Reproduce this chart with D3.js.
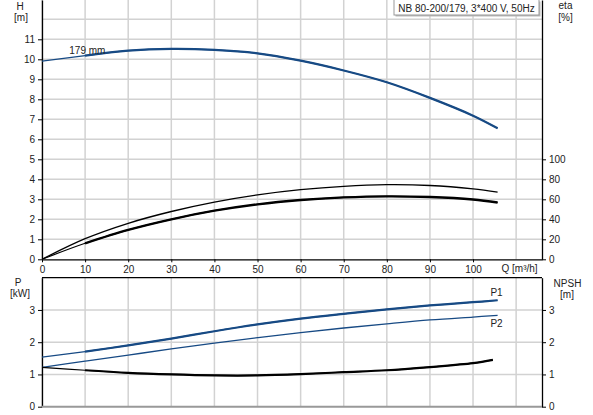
<!DOCTYPE html>
<html><head><meta charset="utf-8">
<script src="https://cdn.jsdelivr.net/npm/d3@7"></script>
<style>
body{margin:0;background:#fff;}
svg{display:block;font-family:"Liberation Sans",Arial,sans-serif;}
</style></head>
<body><svg id="c" width="593" height="415"></svg>
<script>
// ---- data ----
const qPoints   = [0, 10, 20, 30, 40, 50, 60, 70, 80, 90, 100, 105.7];
const headH     = [9.91, 10.18, 10.43, 10.52, 10.47, 10.3, 9.93, 9.44, 8.85, 8.07, 7.18, 6.55];
const etaPump   = [0, 20.6, 36, 47.8, 57.2, 64.4, 69.6, 73, 74.6, 73.8, 70.4, 67.2];
const etaTotal  = [0, 16, 29.4, 40, 48.6, 55, 59.3, 61.9, 63, 62.3, 59.8, 56.8];
const powerP1   = [1.54, 1.71, 1.90, 2.11, 2.34, 2.55, 2.73, 2.88, 3.02, 3.14, 3.24, 3.30];
const powerP2   = [1.22, 1.41, 1.60, 1.79, 1.97, 2.14, 2.30, 2.44, 2.57, 2.69, 2.78, 2.83];
const npshQ     = [0, 10, 20, 30, 40, 50, 60, 70, 80, 90, 100, 104.6];
const npshVals  = [1.22, 1.13, 1.05, 1.0, 0.97, 0.97, 1.01, 1.07, 1.13, 1.23, 1.35, 1.45];
const xTicks    = [0, 10, 20, 30, 40, 50, 60, 70, 80, 90, 100];
const hTicks    = [0, 1, 2, 3, 4, 5, 6, 7, 8, 9, 10, 11];
const etaTicks  = [0, 20, 40, 60, 80, 100];
const pTicks    = [0, 1, 2, 3];
const npshTicks = [0, 1, 2, 3];
const titleText = "NB 80-200/179, 3*400 V, 50Hz";
const curveLabel = "179 mm";

// ---- layout ----
const svg = d3.select("#c");
const L = 42, R = 542;
const topT = 0, topB = 259.3;
const botT = 277.7, botB = 406.7;
const BLUE = "#174a84", GRID = "#d2d2d2", TXT = "#222";
const fmt = d3.format("d");

const x = d3.scaleLinear().domain([0, 116]).range([L, R]);
const yH = d3.scaleLinear().domain([0, 12.965]).range([topB, topT]);
const yEta = d3.scaleLinear().domain([0, 259.3]).range([topB, topT]);
const yP = d3.scaleLinear().domain([0, 4]).range([botB, botT]);

const defs = svg.append("defs");
defs.append("clipPath").attr("id","clipTop").append("rect").attr("x",L).attr("y",topT).attr("width",R-L).attr("height",topB-topT);
defs.append("clipPath").attr("id","clipBot").append("rect").attr("x",L).attr("y",botT).attr("width",R-L).attr("height",botB-botT);

// grids
const gridX = d3.range(0, 111, 10);
function grid(y, yticks, t, b) {
  const g = svg.append("g").attr("stroke", GRID).attr("stroke-width", 1.5);
  gridX.forEach(v => g.append("line").attr("x1", x(v)).attr("x2", x(v)).attr("y1", t).attr("y2", b));
  yticks.forEach(v => g.append("line").attr("x1", L).attr("x2", R).attr("y1", y(v)).attr("y2", y(v)));
}
grid(yH, d3.range(1, 13), topT, topB);
grid(yP, [1, 2, 3], botT, botB);

// axes
function styleAxis(g) {
  g.selectAll("text").attr("font-size", 10).attr("fill", TXT).attr("font-family", '"Liberation Sans",Arial,sans-serif');
  g.selectAll("line").attr("stroke", "#000");
  g.select(".domain").attr("stroke", "#000").attr("stroke-width", 1.3);
}
svg.append("g").attr("transform", `translate(${L},0)`).call(d3.axisLeft(yH).tickValues(hTicks).tickFormat(fmt).tickSize(4).tickPadding(3).tickSizeOuter(0)).call(styleAxis);
svg.append("g").attr("transform", `translate(${R},0)`).call(d3.axisRight(yEta).tickValues(etaTicks).tickFormat(fmt).tickSize(4).tickPadding(3).tickSizeOuter(0)).call(styleAxis);
svg.append("g").attr("transform", `translate(0,${topB})`).call(d3.axisBottom(x).tickValues(xTicks).tickFormat(fmt).tickSize(3).tickPadding(4).tickSizeOuter(0)).call(styleAxis);
svg.append("g").attr("transform", `translate(${L},0)`).call(d3.axisLeft(yP).tickValues(pTicks).tickFormat(fmt).tickSize(4).tickPadding(3).tickSizeOuter(0)).call(styleAxis);
svg.append("g").attr("transform", `translate(${R},0)`).call(d3.axisRight(yP).tickValues(npshTicks).tickFormat(fmt).tickSize(4).tickPadding(3).tickSizeOuter(0)).call(styleAxis);
// lower panel borders
svg.append("line").attr("x1", L).attr("x2", R).attr("y1", botT).attr("y2", botT).attr("stroke", "#000").attr("stroke-width", 1.3);
svg.append("line").attr("x1", L).attr("x2", R).attr("y1", botB).attr("y2", botB).attr("stroke", "#999").attr("stroke-width", 2);

// curves
function drawCurve(qs, vals, yScale, color, clip, thinW, thickW, thickFrom) {
  const pts = qs.map((q, i) => [q, vals[i]]);
  const line = d3.line().x(d => x(d[0])).y(d => yScale(d[1])).curve(d3.curveCatmullRom.alpha(0.5));
  const g = svg.append("g").attr("clip-path", `url(#${clip})`).attr("fill", "none").attr("stroke", color);
  g.append("path").attr("d", line(pts)).attr("stroke-width", thinW);
  if (thickW) {
    const sub = pts.filter(d => d[0] >= thickFrom);
    g.append("path").attr("d", line(sub)).attr("stroke-width", thickW);
  }
}
drawCurve(qPoints, headH, yH, BLUE, "clipTop", 1.2, 2.2, 10);
drawCurve(qPoints, etaPump, yEta, "#000", "clipTop", 1.3, 0, 10);
drawCurve(qPoints, etaTotal, yEta, "#000", "clipTop", 1.2, 2.3, 10);
drawCurve(qPoints, powerP1, yP, BLUE, "clipBot", 1.2, 2.2, 10);
drawCurve(qPoints, powerP2, yP, BLUE, "clipBot", 1.3, 0, 10);
drawCurve(npshQ, npshVals, yP, "#000", "clipBot", 1.2, 2.2, 10);

// labels
function txt(s, xx, yy, anchor) {
  return svg.append("text").attr("x", xx).attr("y", yy).attr("font-size", 10).attr("fill", TXT).attr("text-anchor", anchor || "middle").text(s);
}
txt("H", 20, 10);
txt("[m]", 21, 20.5);
txt("eta", 565.5, 9);
txt("[%]", 565.5, 20.5);
txt("P", 18, 286);
txt("[kW]", 20, 297);
txt("NPSH", 567.5, 287);
txt("[m]", 567, 297.5);
txt("Q [m³/h]", 501.5, 272, "start");
txt("P1", 496.5, 295.5);
txt("P2", 496.5, 326.5);
txt(curveLabel, 69.3, 54, "start");

// title box
const tb = svg.append("g");
tb.append("rect").attr("x", 395.5).attr("y", 1.5).attr("width", 145).attr("height", 15).attr("fill", "#bbb");
tb.append("rect").attr("x", 394).attr("y", -1).attr("width", 145).attr("height", 16).attr("fill", "#fff").attr("stroke", "#999").attr("stroke-width", 1);
txt(titleText, 466.5, 11.5);
</script></body></html>
